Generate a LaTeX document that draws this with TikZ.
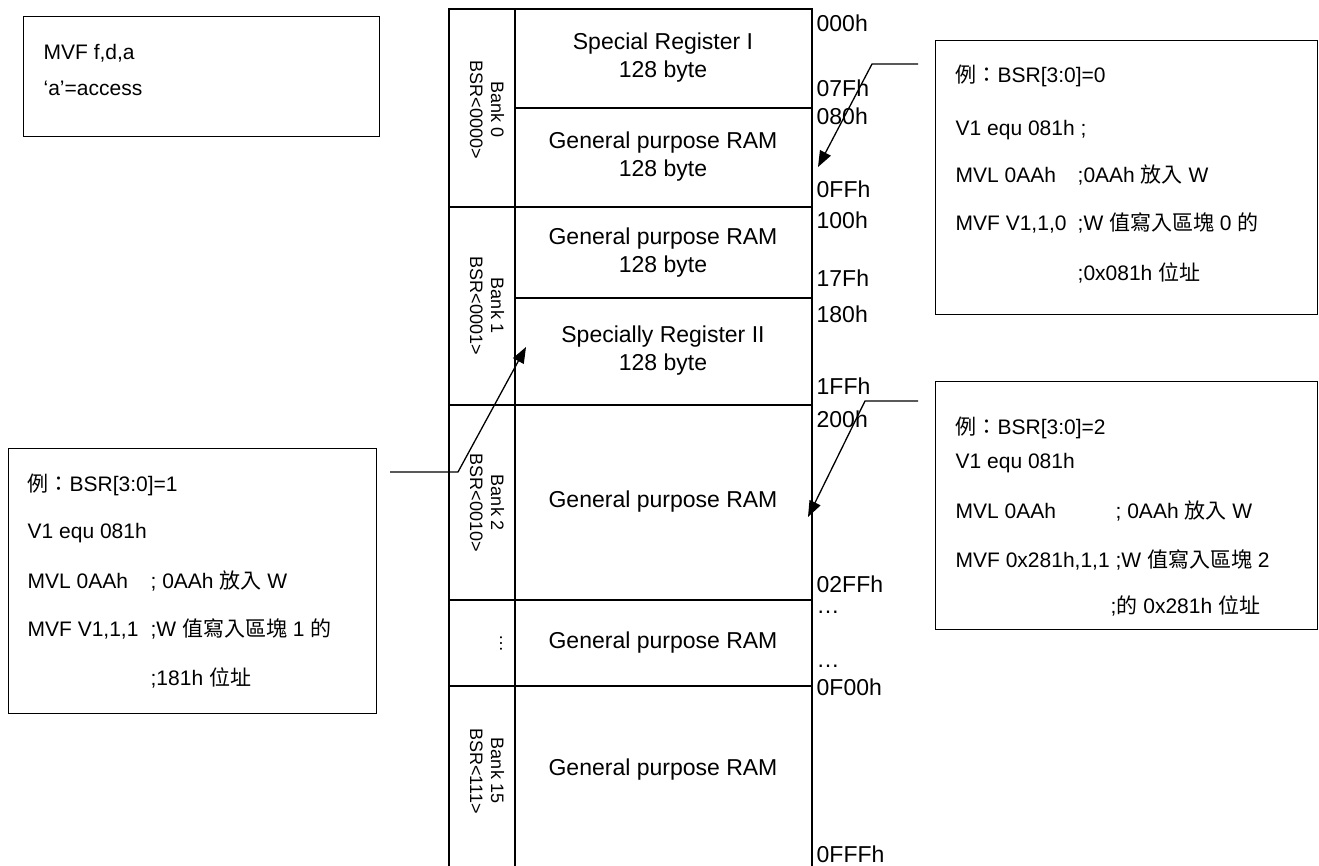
\documentclass[tikz,border=0pt]{standalone}
\usepackage{fontspec}
\setmainfont{Liberation Sans}
\newfontfamily\cjk{Noto Sans CJK TC}
\usetikzlibrary{arrows.meta}
\newcommand\zh[1]{{\cjk #1}}
\newcommand\memfont{\fontsize{23}{28}\selectfont}
\newcommand\boxfont{\fontsize{21}{25}\selectfont}
\newcommand\bankfont{\fontsize{18}{21}\selectfont}
\begin{document}
\begin{tikzpicture}[x=1pt,y=-1pt,
  every path/.style={line width=1.3pt},
  frame/.style={draw, line width=1.3pt, anchor=north west, inner sep=0pt},
  txt/.style={anchor=base west, inner sep=0pt, font=\boxfont},
  addr/.style={anchor=base west, inner sep=0pt, font=\memfont},
  mem/.style={align=center, font=\memfont, inner sep=0pt},
  bank/.style={align=center, rotate=-90, font=\bankfont, inner sep=0pt},
  conn/.style={draw, line width=1.3pt, -{Triangle[length=16pt,width=12pt]}}]
\useasboundingbox (0,0) rectangle (1319,866);

% memory map
\draw (449,866) -- (449,9) -- (812,9) -- (812,866);
\draw (515,9) -- (515,866);
\draw (515,108) -- (812,108);
\draw (449,207) -- (812,207);
\draw (515,298) -- (812,298);
\draw (449,405) -- (812,405);
\draw (449,600) -- (812,600);
\draw (449,686) -- (812,686);

\node[mem] (m1) at (663,58) {Special Register I\\128 byte};
\node[mem] (m2) at (663,157) {General purpose RAM\\128 byte};
\node[mem] (m3) at (663,253) {General purpose RAM\\128 byte};
\node[mem] (m4) at (663,351) {Specially Register II\\128 byte};
\node[mem] (m5) at (663,502) {General purpose RAM};
\node[mem] (m6) at (663,643) {General purpose RAM};
\node[mem] (m7) at (663,770) {General purpose RAM};

\node[bank] (k0) at (487,110) {Bank 0\\BSR<0000>};
\node[bank] (k1) at (487,306) {Bank 1\\BSR<0001>};
\node[bank] (k2) at (487,503) {Bank 2\\BSR<0010>};
\node[bank, anchor=base] (kd) at (500,643) {…};
\node[bank] (k15) at (487,771) {Bank 15\\BSR<111>};

\node[addr] (a1) at (816,32) {000h};
\node[addr] (a2) at (816,97) {07Fh};
\node[addr] (a3) at (816,125) {080h};
\node[addr] (a4) at (816,198) {0FFh};
\node[addr] (a5) at (816,229) {100h};
\node[addr] (a6) at (816,287) {17Fh};
\node[addr] (a7) at (816,323) {180h};
\node[addr] (a8) at (816,394) {1FFh};
\node[addr] (a9) at (816,427) {200h};
\node[addr] (a10) at (816,592) {02FFh};
\node[addr] (a11) at (816,613) {…};
\node[addr] (a12) at (816,667) {…};
\node[addr] (a13) at (816,695) {0F00h};
\node[addr] (a14) at (816,862) {0FFFh};

% boxes
\node[frame, minimum width=356pt, minimum height=120pt] (boxA) at (23,16) {};
\node[txt] (a1t) at (43,60) {MVF f,d,a};
\node[txt] (a2t) at (43,96) {‘a’=access};

\node[frame, minimum width=382pt, minimum height=274pt] (boxB) at (935,40) {};
\node[txt] (b1) at (955,83) {\zh{例：}BSR[3:0]=0};
\node[txt] (b2) at (955,136) {V1 equ 081h ;};
\node[txt] (b3) at (955,183) {MVL 0AAh};
\node[txt] (b3c) at (1077,183) {;0AAh \zh{放入} W};
\node[txt] (b4) at (955,231) {MVF V1,1,0};
\node[txt] (b4c) at (1077,231) {;W \zh{值寫入區塊} 0 \zh{的}};
\node[txt] (b5c) at (1077,281) {;0x081h \zh{位址}};

\node[frame, minimum width=382pt, minimum height=248pt] (boxC) at (935,381) {};
\node[txt] (c1) at (955,434) {\zh{例：}BSR[3:0]=2};
\node[txt] (c2) at (955,468) {V1 equ 081h};
\node[txt] (c3) at (955,518) {MVL 0AAh};
\node[txt] (c3c) at (1115,518) {; 0AAh \zh{放入} W};
\node[txt] (c4) at (955,567) {MVF 0x281h,1,1 ;W \zh{值寫入區塊} 2};
\node[txt] (c5c) at (1110,613) {;\zh{的} 0x281h \zh{位址}};

\node[frame, minimum width=368pt, minimum height=265pt] (boxD) at (8,448) {};
\node[txt] (d1) at (27,491) {\zh{例：}BSR[3:0]=1};
\node[txt] (d2) at (27,538) {V1 equ 081h};
\node[txt] (d3) at (27,588) {MVL 0AAh};
\node[txt] (d3c) at (150,588) {; 0AAh \zh{放入} W};
\node[txt] (d4) at (27,636) {MVF V1,1,1};
\node[txt] (d4c) at (150,636) {;W \zh{值寫入區塊} 1 \zh{的}};
\node[txt] (d5c) at (150,685) {;181h \zh{位址}};

% connectors
\coordinate (p1s) at (918,64);
\coordinate (p1k) at (872,64);
\coordinate (p1t) at (818,167);
\coordinate (p2s) at (918,401);
\coordinate (p2k) at (865,401);
\coordinate (p2t) at (808,517);
\coordinate (p3s) at (390,472);
\coordinate (p3k) at (458,472);
\coordinate (p3t) at (526,347);
\draw[conn] (p1s) -- (p1k) -- (p1t);
\draw[conn] (p2s) -- (p2k) -- (p2t);
\draw[conn] (p3s) -- (p3k) -- (p3t);
\end{tikzpicture}
\end{document}
